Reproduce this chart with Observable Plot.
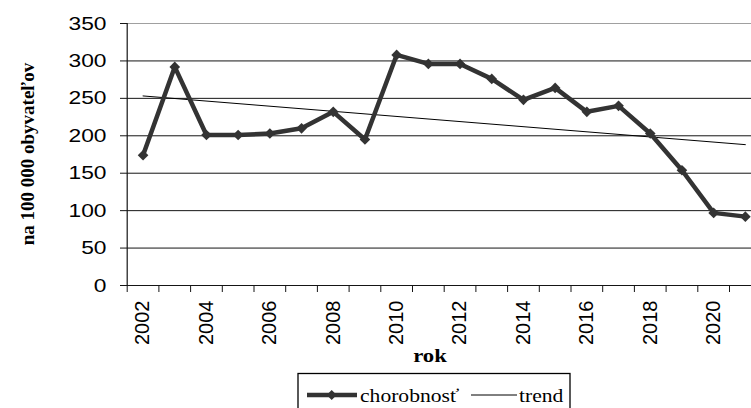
<!DOCTYPE html>
<html><head><meta charset="utf-8">
<script src="https://cdn.jsdelivr.net/npm/d3@7"></script>
<script src="https://cdn.jsdelivr.net/npm/@observablehq/plot@0.6"></script>
<style>
html,body{margin:0;padding:0;background:#fff;}
#wrap{position:relative;width:751px;height:408px;overflow:hidden;}
#wrap svg.ov{position:absolute;left:0;top:0;pointer-events:none;}
</style></head><body><div id="wrap"></div>
<script>
// ---- data ----
const years = [2002,2003,2004,2005,2006,2007,2008,2009,2010,2011,2012,2013,2014,2015,2016,2017,2018,2019,2020,2021];
const chorobnost = [174,292,201,201,203,210,232,195,308,296,296,276,248,264,232,240,203,154,97,92];
const yTicks = [0,50,100,150,200,250,300,350];
const xLabelYears = [2002,2004,2006,2008,2010,2012,2014,2016,2018,2020];
const xTitle = "rok";
const yTitle = "na 100 000 obyvateľov";
const seriesNames = ["chorobnosť", "trend"];

const data = years.map((year, i) => ({year, value: chorobnost[i]}));
const boundaries = years.map(y => y - 0.5).concat([years[years.length - 1] + 0.5]);

const chart = Plot.plot({
  width: 751, height: 408,
  marginLeft: 127, marginRight: 0, marginTop: 23, marginBottom: 123,
  x: {type: "linear", domain: [2001.5, 2021.5], range: [126.7, 760.7], axis: null, label: null},
  y: {domain: [0, 350], axis: null, label: null},
  style: {background: "transparent", color: "#000", fontFamily: "'Liberation Sans', Arial, sans-serif"},
  marks: [
    Plot.ruleY(yTicks.filter(d => d > 0 && d < 350), {stroke: "#151515", strokeWidth: 1}),
    Plot.ruleY([350], {stroke: "#a0a0a0", strokeWidth: 1}),
    Plot.ruleY([0], {stroke: "#151515", strokeWidth: 1.2}),
    Plot.ruleX([2001.5], {y1: 0, y2: 350, stroke: "#151515", strokeWidth: 1.2}),
    Plot.axisY(yTicks, {anchor: "left", tickSize: 7, tickPadding: 14, fontSize: 19, label: null, stroke: "#151515"}),
    Plot.axisX(boundaries, {anchor: "bottom", tickSize: 7, tickFormat: () => "", label: null, stroke: "#151515"}),
    Plot.axisX(xLabelYears, {anchor: "bottom", tickSize: 0, tickPadding: 15, tickRotate: -90, fontSize: 20, tickFormat: d => String(d), label: null}),
    Plot.linearRegressionY(data, {x: "year", y: "value", ci: 0, stroke: "#000", strokeWidth: 1}),
    Plot.line(data, {x: "year", y: "value", stroke: "#333", strokeWidth: 4.5}),
    Plot.dot(data, {x: "year", y: "value", symbol: "diamond2", r: 4.8, fill: "#333", stroke: "none"})
  ]
});
const wrap = document.getElementById("wrap");
wrap.appendChild(chart);

function isNum(v) { return v !== null && /^-?[\d.]+$/.test(v.trim()); }
function stretch(sel, s) {
  chart.querySelectorAll(sel).forEach(t => {
    let tr = t.getAttribute("transform") || "";
    const x = t.getAttribute("x"), y = t.getAttribute("y");
    let tx = 0, ty = 0, moved = false;
    if (isNum(x)) { tx = +x; t.removeAttribute("x"); moved = true; }
    if (isNum(y)) { ty = +y; t.removeAttribute("y"); moved = true; }
    if (moved) tr = `translate(${tx},${ty}) ` + tr;
    const m = tr.match(/^\s*translate\([^)]*\)/);
    if (m) tr = m[0] + ` scale(${s},1)` + tr.slice(m[0].length);
    else tr = `scale(${s},1) ` + tr;
    t.setAttribute("transform", tr);
  });
}
stretch('g[aria-label="y-axis tick label"] text', 1.2);

// overlay: axis titles and legend
const ns = "http://www.w3.org/2000/svg";
const ov = document.createElementNS(ns, "svg");
ov.setAttribute("class", "ov");
ov.setAttribute("width", 751); ov.setAttribute("height", 408);
function el(name, attrs, text) {
  const e = document.createElementNS(ns, name);
  for (const k in attrs) e.setAttribute(k, attrs[k]);
  if (text != null) e.textContent = text;
  ov.appendChild(e);
  return e;
}
const serif = "'Liberation Serif', 'Times New Roman', serif";
el("text", {transform: "translate(27,154) rotate(-90)", "text-anchor": "middle", "dominant-baseline": "central",
  "font-family": serif, "font-weight": "bold", "font-size": 19, fill: "#000"}, yTitle);
el("text", {transform: "translate(430,362) scale(1.2,1)", "text-anchor": "middle",
  "font-family": serif, "font-weight": "bold", "font-size": 19, fill: "#000"}, xTitle);
// legend box
el("rect", {x: 298, y: 373.5, width: 272, height: 60, fill: "none", stroke: "#000", "stroke-width": 1.3});
el("line", {x1: 307, x2: 357, y1: 395, y2: 395, stroke: "#333", "stroke-width": 4.5});
el("path", {d: "M331.7,390 L336.7,395 L331.7,400 L326.7,395 Z", fill: "#333"});
el("text", {transform: "translate(360,402) scale(1.2,1)", "font-family": serif, "font-size": 18, fill: "#000"}, seriesNames[0]);
el("line", {x1: 471, x2: 517, y1: 395, y2: 395, stroke: "#000", "stroke-width": 1});
el("text", {transform: "translate(519,402) scale(1.2,1)", "font-family": serif, "font-size": 18, fill: "#000"}, seriesNames[1]);
wrap.appendChild(ov);
</script>
</body></html>
